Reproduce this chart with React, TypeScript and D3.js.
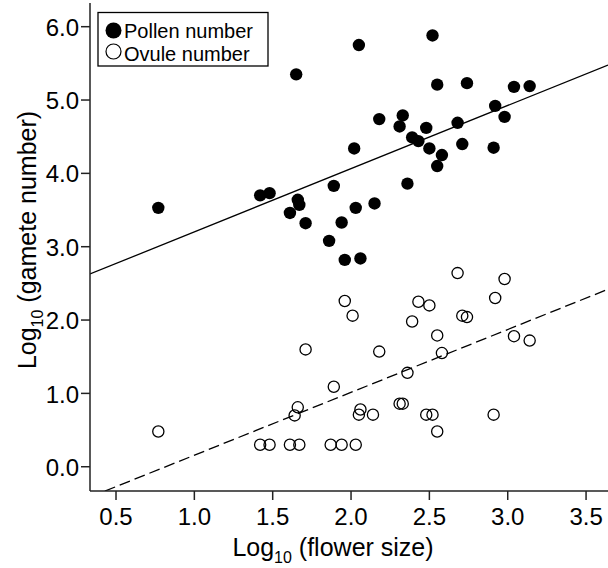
import * as React from 'react';
import * as d3 from 'd3';

// log10 flower size / log10 pollen number
const pollenX = [0.77, 1.42, 1.48, 1.61, 1.66, 1.67, 1.65, 1.71, 1.86, 1.89, 1.94, 1.96, 2.02, 2.03, 2.05, 2.06, 2.15, 2.18, 2.31, 2.33, 2.36, 2.39, 2.43, 2.48, 2.5, 2.52, 2.55, 2.55, 2.58, 2.68, 2.71, 2.74, 2.91, 2.92, 2.98, 3.04, 3.14];
const pollenY = [3.53, 3.7, 3.73, 3.46, 3.64, 3.57, 5.35, 3.32, 3.08, 3.83, 3.33, 2.82, 4.34, 3.53, 5.75, 2.84, 3.59, 4.74, 4.64, 4.79, 3.86, 4.49, 4.44, 4.62, 4.34, 5.88, 5.21, 4.1, 4.25, 4.69, 4.4, 5.23, 4.35, 4.92, 4.77, 5.18, 5.19];

// log10 flower size / log10 ovule number
const ovuleX = [0.77, 1.42, 1.48, 1.61, 1.67, 1.66, 1.64, 1.71, 1.87, 1.94, 2.03, 1.89, 1.96, 2.01, 2.05, 2.06, 2.14, 2.18, 2.31, 2.33, 2.36, 2.39, 2.43, 2.48, 2.5, 2.52, 2.55, 2.55, 2.58, 2.68, 2.71, 2.74, 2.91, 2.92, 2.98, 3.04, 3.14];
const ovuleY = [0.48, 0.3, 0.3, 0.3, 0.3, 0.81, 0.7, 1.6, 0.3, 0.3, 0.3, 1.09, 2.26, 2.06, 0.71, 0.78, 0.71, 1.57, 0.86, 0.86, 1.28, 1.98, 2.25, 0.71, 2.2, 0.71, 0.48, 1.79, 1.55, 2.64, 2.06, 2.04, 0.71, 2.3, 2.56, 1.78, 1.72];

// fitted lines: [intercept, slope]
const pollenFit = [2.34, 0.862];
const ovuleFit = [-0.7, 0.857];

const xTicks = [0.5, 1.0, 1.5, 2.0, 2.5, 3.0, 3.5];
const yTicks = [0, 1, 2, 3, 4, 5, 6];

const W = 608;
const H = 568;
const font = '"Liberation Sans", Arial, sans-serif';

const App = () => {
  const x = d3.scaleLinear().domain([0.334, 3.64]).range([90, 608]);
  const y = d3.scaleLinear().domain([-0.331, 6.323]).range([491, 3]);
  const [x0, x1] = x.domain();

  const fitLine = (fit) =>
    d3
      .line()
      .x((d) => x(d))
      .y((d) => y(fit[0] + fit[1] * d))([x0, x1]);

  return (
    <svg width={W} height={H} style={{ position: 'absolute', left: 0, top: 0 }}>
      <rect width={W} height={H} fill='white' />
      <defs>
        <clipPath id='plot'>
          <rect x={90} y={3} width={518} height={488} />
        </clipPath>
      </defs>

      <g clipPath='url(#plot)'>
        <path d={fitLine(pollenFit)} stroke='#000' strokeWidth={1.3} fill='none' />
        <path
          d={fitLine(ovuleFit)}
          stroke='#000'
          strokeWidth={1.3}
          strokeDasharray='11,5'
          fill='none'
        />
      </g>

      {ovuleX.map((d, i) => (
        <circle key={'o' + i} cx={x(d)} cy={y(ovuleY[i])} r={5.6} fill='none' stroke='#000' strokeWidth={1.3} />
      ))}
      {pollenX.map((d, i) => (
        <circle key={'p' + i} cx={x(d)} cy={y(pollenY[i])} r={6.2} fill='#000' />
      ))}

      {/* axes */}
      <line x1={90} x2={90} y1={3} y2={491} stroke='#222' strokeWidth={1.5} />
      <line x1={90} x2={608} y1={491} y2={491} stroke='#222' strokeWidth={1.5} />
      {yTicks.map((t) => (
        <g key={'y' + t} transform={`translate(90,${y(t)})`}>
          <line x1={-9} x2={0} stroke='#222' strokeWidth={1.5} />
          <text x={-11} dy='0.38em' textAnchor='end' fontSize={24} fontFamily={font} fill='#000'>
            {d3.format('.1f')(t)}
          </text>
        </g>
      ))}
      {xTicks.map((t) => (
        <g key={'x' + t} transform={`translate(${x(t)},491)`}>
          <line y1={0} y2={9} stroke='#222' strokeWidth={1.5} />
          <text y={34} textAnchor='middle' fontSize={24} fontFamily={font} fill='#000'>
            {d3.format('.1f')(t)}
          </text>
        </g>
      ))}

      <text x={333} y={556} textAnchor='middle' fontSize={25} fontFamily={font} fill='#000'>
        Log<tspan fontSize={16} dy={7}>10</tspan>
        <tspan dy={-7}> (flower size)</tspan>
      </text>
      <text
        transform='translate(36,240) rotate(-90)'
        textAnchor='middle'
        fontSize={25}
        fontFamily={font}
        fill='#000'>
        Log<tspan fontSize={16} dy={7}>10</tspan>
        <tspan dy={-7}> (gamete number)</tspan>
      </text>

      {/* legend */}
      <rect x={98} y={12.5} width={170} height={53.5} fill='white' stroke='#000' strokeWidth={1.3} />
      <circle cx={113.5} cy={30.5} r={8} fill='#000' />
      <text x={124} y={37.5} fontSize={20} fontFamily={font} fill='#000'>
        Pollen number
      </text>
      <circle cx={113.5} cy={51.5} r={7.5} fill='none' stroke='#000' strokeWidth={1.2} />
      <text x={124} y={60.5} fontSize={20} fontFamily={font} fill='#000'>
        Ovule number
      </text>
    </svg>
  );
};

export default App;
